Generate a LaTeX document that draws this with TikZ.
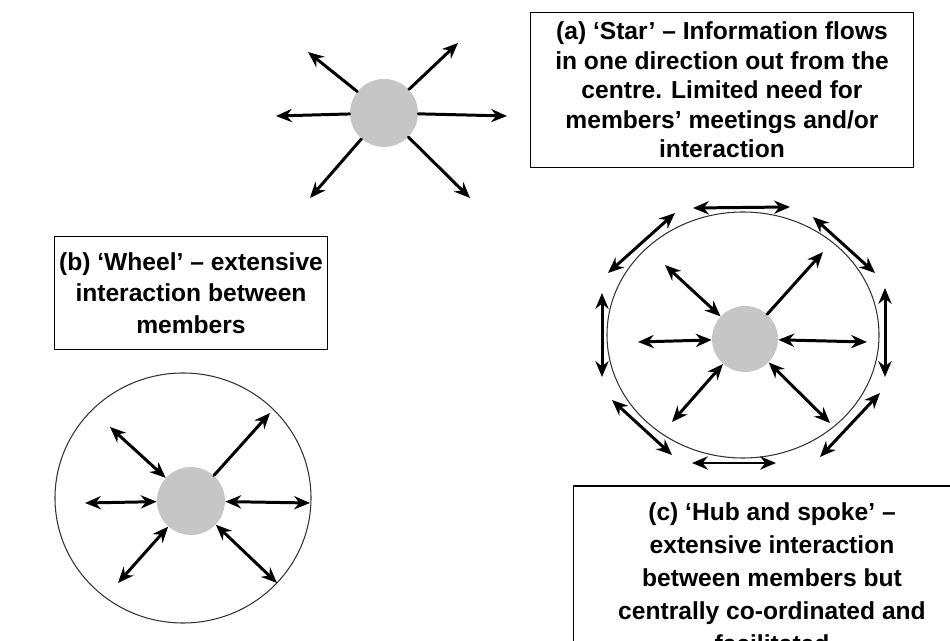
\documentclass[tikz,border=0pt]{standalone}
\usepackage{fontspec}
\setmainfont{Liberation Sans}
\usetikzlibrary{arrows.meta}
\colorlet{hubfill}{gray!45}

\begin{document}
\begin{tikzpicture}[x=0.02cm, y=-0.02cm,
	>={Stealth[length=9pt, width=7.5pt]}, line cap=round, line join=round,
	hub/.style={circle, fill=hubfill, minimum size=1.36cm, inner sep=0pt},
	spoke/.style={->, black, line width=1.7pt},
	twoway/.style={<->, black, line width=1.7pt},
	ring/.style={black!80, line width=0.6pt},
	caption/.style={draw, line width=0.6pt, align=center, inner sep=0pt,
		font=\fontsize{14}{#1}\selectfont\bfseries}]
	
	\clip (0,0) rectangle (950,641);
	
	% (a) star
	\node [hub] (starhub) at (384,113) {};
	\coordinate (star-ul) at (308,52);
	\coordinate (star-ur) at (458,43);
	\coordinate (star-l) at (276,116);
	\coordinate (star-r) at (507,116);
	\coordinate (star-dl) at (310,198);
	\coordinate (star-dr) at (470,198);
	\foreach \s in {ul,ur,l,r,dl,dr}
		\draw [spoke] (starhub) -- (star-\s);
	
	\node [caption=16.8, minimum width=7.68cm, minimum height=3.1cm] (capA) 
	at (722,90) {(a) ‘Star’ – Information flows\\in one direction out from the\\
		centre. Limited need for\\members’ meetings and/or\\interaction};
	
	% (b) wheel
	\node [caption=17.8, minimum width=5.46cm, minimum height=2.26cm] (capB) 
	at (191,293) {(b) ‘Wheel’ – extensive\\interaction between\\members};
	
	\draw [ring] (183,498) circle [x radius=128, y radius=125];
	\node [hub] (wheelhub) at (191,501) {};
	\coordinate (wheel-ul) at (110,427);
	\coordinate (wheel-ur) at (270,413);
	\coordinate (wheel-l) at (85,503);
	\coordinate (wheel-r) at (310,503);
	\coordinate (wheel-dl) at (118,583);
	\coordinate (wheel-dr) at (277,583);
	\foreach \s in {ul,l,r,dl,dr}
		\draw [twoway] (wheelhub) -- (wheel-\s);
	\draw [spoke] (wheelhub) -- (wheel-ur);
	
	% (c) hub and spoke
	\draw [ring] (743,335) circle [x radius=136, y radius=123];
	\node [hub, minimum size=1.32cm] (spokehub) at (745,339) {};
	\coordinate (spoke-ul) at (665,265);
	\coordinate (spoke-ur) at (823,252);
	\coordinate (spoke-l) at (638,342);
	\coordinate (spoke-r) at (867,342);
	\coordinate (spoke-dl) at (672,422);
	\coordinate (spoke-dr) at (830,423);
	\foreach \s in {ul,l,r,dl,dr}
		\draw [twoway] (spokehub) -- (spoke-\s);
	\draw [spoke] (spokehub) -- (spoke-ur);
	
	\foreach \n/\ax/\ay/\bx/\by in {t/693/208/790/207, tr/813/217/875/273, 
		r/885/288/885/377, br/880/393/820/457, b/692/463/776/463, 
		bl/612/400/672/455, l/602/293/602/377, tl/675/213/608/273}{
		\coordinate (rim-\n-1) at (\ax,\ay);
		\coordinate (rim-\n-2) at (\bx,\by);
		\draw [twoway] (rim-\n-1) -- (rim-\n-2);
	}
	
	\node [caption=18.8, minimum width=7.96cm, minimum height=3.68cm] (capC) 
	at (772,578) {(c) ‘Hub and spoke’ –\\extensive interaction\\
		between members but\\centrally co-ordinated and\\facilitated};
	
\end{tikzpicture}
\end{document}
